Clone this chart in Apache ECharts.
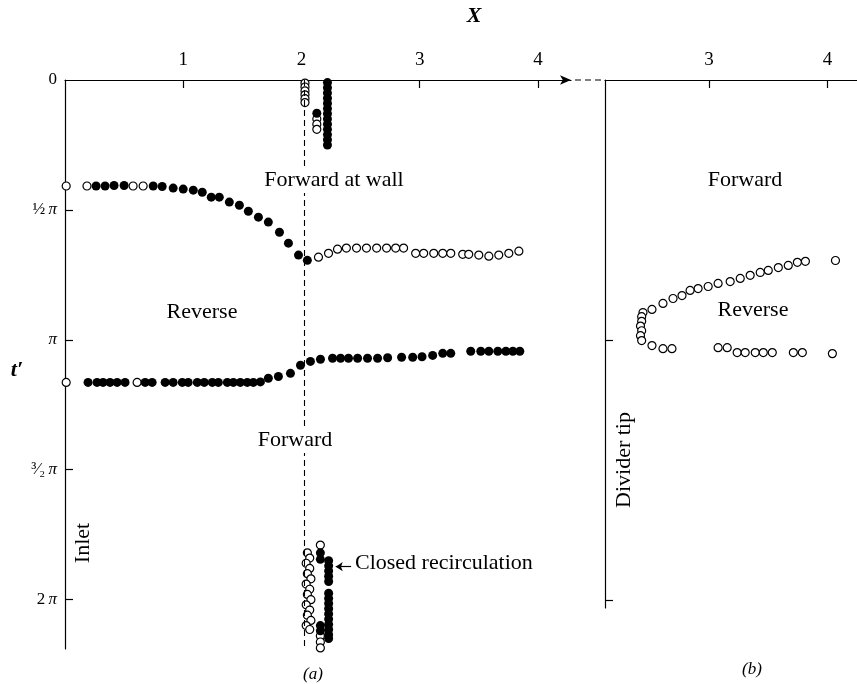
<!DOCTYPE html>
<html>
<head>
<meta charset="utf-8">
<script src="https://cdn.jsdelivr.net/npm/echarts@6/dist/echarts.min.js"></script>
<style>
  html, body { margin: 0; padding: 0; background: #fff; }
  #chart { width: 857px; height: 684px; }
</style>
</head>
<body>
<div id="chart"></div>
<script>
// tick values / labels
const xTicksA = [1, 2, 3, 4];
const xTicksB = [3, 4];
const yTicksA = [0, 0.5, 1, 1.5, 2];
const yTickLabels = ['{n|0}', '{n|½} {p|π}', '{p|π}', '{n|³⁄₂} {p|π}', '{n|2} {p|π}'];
const yTicksB = [1, 2];

// (a) t'/π values, X along channel
const upperFilled = [
  [0.263, 0.408], [0.339, 0.408], [0.415, 0.406], [0.5, 0.406], [0.746, 0.408],
  [0.822, 0.41], [0.915, 0.416], [1.0, 0.42], [1.085, 0.424], [1.161, 0.432],
  [1.237, 0.451], [1.305, 0.451], [1.39, 0.47], [1.475, 0.482], [1.551, 0.505],
  [1.636, 0.528], [1.72, 0.547], [1.814, 0.586], [1.89, 0.628], [1.975, 0.674],
  [2.05, 0.694]
];
const upperOpen = [
  [0.01, 0.408], [0.186, 0.408], [0.576, 0.408], [0.661, 0.408],
  [2.144, 0.682], [2.229, 0.667], [2.305, 0.651], [2.38, 0.647], [2.466, 0.647],
  [2.55, 0.647], [2.636, 0.647], [2.72, 0.647], [2.797, 0.647], [2.864, 0.647],
  [2.966, 0.667], [3.034, 0.667], [3.119, 0.667], [3.195, 0.667], [3.263, 0.667],
  [3.364, 0.671], [3.415, 0.671], [3.5, 0.674], [3.585, 0.678], [3.669, 0.674],
  [3.754, 0.667], [3.839, 0.659]
];
const lowerFilled = [
  [0.195, 1.164], [0.271, 1.164], [0.322, 1.164], [0.381, 1.164], [0.441, 1.164],
  [0.508, 1.164], [0.678, 1.164], [0.737, 1.164], [0.847, 1.164], [0.915, 1.164],
  [0.992, 1.164], [1.042, 1.164], [1.119, 1.164], [1.178, 1.164], [1.246, 1.164],
  [1.297, 1.164], [1.373, 1.164], [1.424, 1.164], [1.483, 1.164], [1.542, 1.164],
  [1.593, 1.164], [1.653, 1.162], [1.72, 1.148], [1.805, 1.141], [1.907, 1.129],
  [1.992, 1.098], [2.076, 1.083], [2.161, 1.075], [2.263, 1.071], [2.331, 1.071],
  [2.398, 1.071], [2.475, 1.071], [2.559, 1.071], [2.644, 1.071], [2.729, 1.069],
  [2.847, 1.067], [2.941, 1.067], [3.02, 1.065], [3.11, 1.06], [3.195, 1.052],
  [3.263, 1.052], [3.432, 1.044], [3.517, 1.044], [3.585, 1.044], [3.661, 1.044],
  [3.729, 1.044], [3.788, 1.044], [3.847, 1.044]
];
const lowerOpen = [[0.01, 1.164], [0.61, 1.164]];

// recirculation clusters near the dashed line
const topClusterOpen = [
  [2.03, 0.012], [2.03, 0.027], [2.03, 0.042], [2.03, 0.057], [2.03, 0.072],
  [2.03, 0.087], [2.13, 0.15], [2.13, 0.17], [2.13, 0.19]
];
const topClusterFilled = [
  [2.22, 0.01], [2.22, 0.03], [2.22, 0.05], [2.22, 0.07], [2.22, 0.09],
  [2.22, 0.11], [2.22, 0.13], [2.22, 0.15], [2.22, 0.17], [2.22, 0.19],
  [2.22, 0.21], [2.22, 0.23], [2.22, 0.25], [2.13, 0.128]
];
const bottomClusterOpen = [
  [2.05, 1.82], [2.07, 1.84], [2.04, 1.86], [2.07, 1.88], [2.05, 1.90],
  [2.08, 1.92], [2.04, 1.94], [2.07, 1.96], [2.05, 1.98], [2.08, 2.0],
  [2.04, 2.02], [2.07, 2.04], [2.05, 2.06], [2.08, 2.08], [2.04, 2.10],
  [2.07, 2.115], [2.16, 1.79], [2.16, 2.14], [2.16, 2.163], [2.16, 2.186]
];
const bottomClusterFilled = [
  [2.16, 1.82], [2.16, 1.845], [2.16, 2.10], [2.16, 2.12],
  [2.23, 1.85], [2.23, 1.87], [2.23, 1.89], [2.23, 1.91], [2.23, 1.93],
  [2.23, 1.975], [2.23, 1.995], [2.23, 2.015], [2.23, 2.035], [2.23, 2.055],
  [2.23, 2.075], [2.23, 2.095], [2.23, 2.115], [2.23, 2.135], [2.23, 2.15]
];

// (b) behind the divider tip
const panelBOpen = [
  [4.068, 0.694], [3.814, 0.697], [3.746, 0.701], [3.669, 0.713], [3.585, 0.721],
  [3.5, 0.732], [3.432, 0.74], [3.347, 0.751], [3.263, 0.763], [3.178, 0.775],
  [3.076, 0.782], [2.992, 0.794], [2.907, 0.802], [2.839, 0.809], [2.771, 0.829],
  [2.695, 0.84], [2.61, 0.859], [2.517, 0.882], [2.441, 0.894],
  [2.43, 0.91], [2.43, 0.928], [2.42, 0.946], [2.43, 0.964], [2.42, 0.983], [2.43, 1.002],
  [2.517, 1.021], [2.61, 1.033], [2.686, 1.033], [3.076, 1.029], [3.153, 1.029],
  [3.237, 1.048], [3.305, 1.048], [3.39, 1.048], [3.458, 1.048], [3.534, 1.048],
  [3.712, 1.048], [3.788, 1.048], [4.042, 1.052]
];

const dividerX = 2.02;

const serif = "'Liberation Serif', 'DejaVu Serif', serif";

var chart = echarts.init(document.getElementById('chart'));

var filledStyle = { color: '#000', opacity: 1 };
var openStyle = { color: '#fff', borderColor: '#000', borderWidth: 1.2, opacity: 1 };

function pts(name, data, open, xi) {
  return {
    name: name,
    type: 'scatter',
    xAxisIndex: xi, yAxisIndex: xi,
    data: data,
    symbol: 'circle',
    symbolSize: open ? 8 : 9,
    itemStyle: open ? openStyle : filledStyle,
    clip: false,
    silent: true,
    z: open ? 3 : 4
  };
}

function txt(x, y, text, opts) {
  opts = opts || {};
  return {
    type: 'text', z: 50, x: x, y: y, rotation: opts.rotation || 0,
    style: {
      text: text, font: opts.font || ('22px ' + serif), fill: '#000',
      backgroundColor: opts.bg || null, padding: opts.bg ? [2, 2] : 0,
      align: opts.align || 'center', verticalAlign: 'middle',
      textAlign: opts.align || 'center', textVerticalAlign: 'middle'
    }
  };
}

var axisLineStyle = { color: '#000', width: 1.2 };

var option = {
  backgroundColor: '#fff',
  animation: false,
  grid: [
    { left: 65, top: 80, width: 506, height: 569, containLabel: false, outerBoundsMode: 'none' },
    { left: 605, top: 80, width: 252, height: 528, containLabel: false, outerBoundsMode: 'none' }
  ],
  xAxis: [
    {
      gridIndex: 0, type: 'value', position: 'top', min: 0, max: 4.28,
      axisLine: { lineStyle: axisLineStyle, symbol: ['none', 'arrow'], symbolSize: [7, 11] },
      axisTick: { inside: true, length: 8, customValues: xTicksA, lineStyle: axisLineStyle },
      axisLabel: { color: '#000', fontFamily: serif, fontSize: 19, margin: 10, customValues: xTicksA },
      splitLine: { show: false }
    },
    {
      gridIndex: 1, type: 'value', position: 'top', min: 2.12, max: 4.25,
      axisLine: { lineStyle: axisLineStyle },
      axisTick: { inside: true, length: 8, customValues: xTicksB, lineStyle: axisLineStyle },
      axisLabel: { color: '#000', fontFamily: serif, fontSize: 19, margin: 10, customValues: xTicksB },
      splitLine: { show: false }
    }
  ],
  yAxis: [
    {
      gridIndex: 0, type: 'value', inverse: true, min: 0, max: 2.19,
      axisLine: { lineStyle: axisLineStyle },
      axisTick: { inside: true, length: 8, customValues: yTicksA.slice(1), lineStyle: axisLineStyle },
      axisLabel: {
        color: '#000', margin: 8,
        customValues: yTicksA,
        formatter: function (v) { return yTickLabels[yTicksA.indexOf(v)]; },
        rich: {
          n: { fontFamily: serif, fontSize: 17, color: '#000' },
          p: { fontFamily: serif, fontSize: 17, fontStyle: 'italic', color: '#000' }
        }
      },
      splitLine: { show: false }
    },
    {
      gridIndex: 1, type: 'value', inverse: true, min: 0, max: 2.03,
      axisLine: { lineStyle: axisLineStyle },
      axisTick: { inside: true, length: 8, customValues: yTicksB, lineStyle: axisLineStyle },
      axisLabel: { show: false },
      splitLine: { show: false }
    }
  ],
  series: [
    {
      type: 'scatter', xAxisIndex: 0, yAxisIndex: 0, data: [], silent: true,
      markLine: {
        silent: true, symbol: ['none', 'none'], label: { show: false },
        lineStyle: { color: '#000', type: [6, 4], width: 1.1 },
        data: [{ xAxis: dividerX }]
      }
    },
    {
      type: 'scatter', xAxisIndex: 0, yAxisIndex: 0, data: [], silent: true,
      markLine: {
        silent: true, symbol: ['none', 'arrow'], symbolSize: 7, label: { show: false },
        lineStyle: { color: '#000', type: 'solid', width: 1.2 },
        data: [[{ coord: [2.42, 1.873] }, { coord: [2.29, 1.873] }]]
      }
    },
    pts('upperFilled', upperFilled, false, 0),
    pts('upperOpen', upperOpen, true, 0),
    pts('lowerFilled', lowerFilled, false, 0),
    pts('lowerOpen', lowerOpen, true, 0),
    pts('topClusterOpen', topClusterOpen, true, 0),
    pts('topClusterFilled', topClusterFilled, false, 0),
    pts('bottomClusterOpen', bottomClusterOpen, true, 0),
    pts('bottomClusterFilled', bottomClusterFilled, false, 0),
    pts('panelB', panelBOpen, true, 1)
  ],
  graphic: [
    { type: 'line', z: 50, shape: { x1: 575, y1: 80, x2: 605, y2: 80 }, style: { stroke: '#000', lineWidth: 1.2, lineDash: [6, 4] } },
    txt(474, 16, 'X', { font: 'italic bold 22px ' + serif }),
    txt(17, 370, 't′', { font: 'italic bold 22px ' + serif }),
    txt(334, 180, 'Forward at wall', { bg: '#fff' }),
    txt(202, 312, 'Reverse'),
    txt(295, 440, 'Forward', { bg: '#fff' }),
    txt(355, 563, 'Closed recirculation', { align: 'left' }),
    txt(83, 543, 'Inlet', { rotation: Math.PI / 2 }),
    txt(624, 460, 'Divider tip', { rotation: Math.PI / 2 }),
    txt(745, 180, 'Forward'),
    txt(753, 310, 'Reverse'),
    txt(313, 675, '(a)', { font: 'italic 17px ' + serif }),
    txt(752, 670, '(b)', { font: 'italic 17px ' + serif })
  ]
};

option && chart.setOption(option);
</script>
</body>
</html>
